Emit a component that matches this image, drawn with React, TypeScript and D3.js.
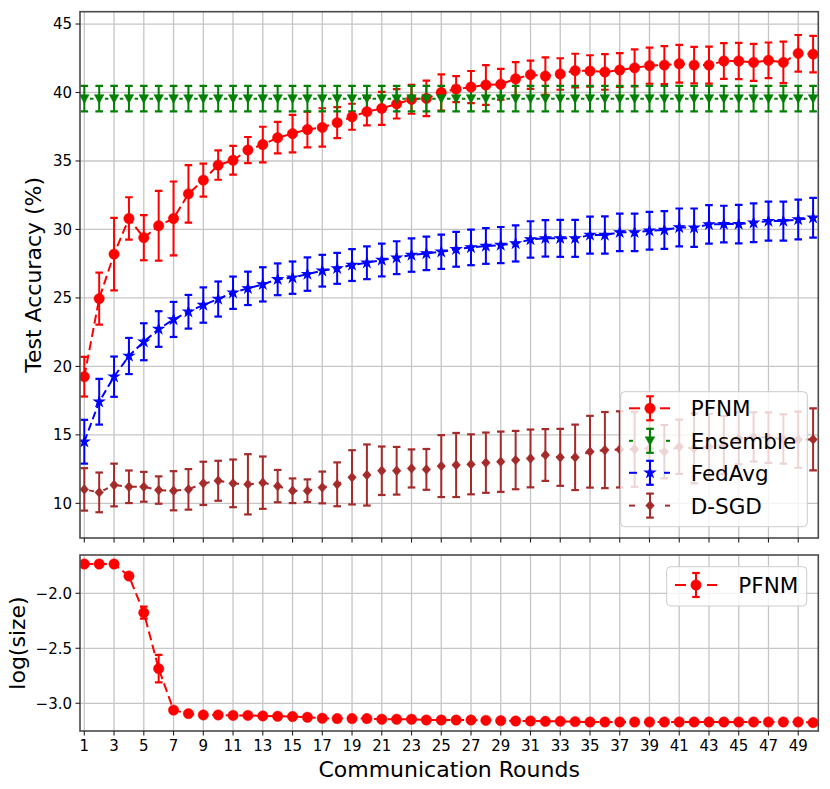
import React from 'react';
import * as d3 from 'd3';

const rounds = d3.range(1, 51);
const xTickValues = [1, 3, 5, 7, 9, 11, 13, 15, 17, 19, 21, 23, 25, 27, 29, 31, 33, 35, 37, 39, 41, 43, 45, 47, 49];
const yTopTicks = [10, 15, 20, 25, 30, 35, 40, 45];
const yBotTicks = [-3.0, -2.5, -2.0];

const pfnmMean = [19.25, 24.95, 28.2, 30.8, 29.4, 30.27, 30.8, 32.6, 33.6, 34.7, 35.05, 35.8, 36.2, 36.7, 37.0, 37.3, 37.45, 37.8, 38.23, 38.6, 38.84, 39.17, 39.5, 39.57, 40.0, 40.25, 40.4, 40.55, 40.6, 41.0, 41.3, 41.2, 41.35, 41.6, 41.57, 41.5, 41.64, 41.8, 41.96, 42.0, 42.1, 42.0, 42.0, 42.3, 42.3, 42.2, 42.35, 42.2, 42.86, 42.8];
const pfnmErr = [1.45, 1.9, 2.65, 1.55, 1.65, 2.55, 2.7, 2.1, 1.2, 1.07, 1.05, 0.95, 1.3, 1.15, 1.37, 1.3, 1.4, 1.13, 0.95, 1.0, 1.2, 1.07, 1.05, 1.3, 1.33, 0.95, 1.17, 1.45, 1.12, 1.22, 1.03, 1.37, 1.15, 1.23, 1.15, 1.3, 1.23, 1.35, 1.32, 1.38, 1.38, 1.33, 1.35, 1.3, 1.32, 1.35, 1.3, 1.51, 1.34, 1.33];

const ensembleMean = [39.55, 39.55, 39.55, 39.55, 39.55, 39.55, 39.55, 39.55, 39.55, 39.55, 39.55, 39.55, 39.55, 39.55, 39.55, 39.55, 39.55, 39.55, 39.55, 39.55, 39.55, 39.55, 39.55, 39.55, 39.55, 39.55, 39.55, 39.55, 39.55, 39.55, 39.55, 39.55, 39.55, 39.55, 39.55, 39.55, 39.55, 39.55, 39.55, 39.55, 39.55, 39.55, 39.55, 39.55, 39.55, 39.55, 39.55, 39.55, 39.55, 39.55];
const ensembleErr = [0.93, 0.93, 0.93, 0.93, 0.93, 0.93, 0.93, 0.93, 0.93, 0.93, 0.93, 0.93, 0.93, 0.93, 0.93, 0.93, 0.93, 0.93, 0.93, 0.93, 0.93, 0.93, 0.93, 0.93, 0.93, 0.93, 0.93, 0.93, 0.93, 0.93, 0.93, 0.93, 0.93, 0.93, 0.93, 0.93, 0.93, 0.93, 0.93, 0.93, 0.93, 0.93, 0.93, 0.93, 0.93, 0.93, 0.93, 0.93, 0.93, 0.93];

const fedavgMean = [14.5, 17.42, 19.25, 20.76, 21.8, 22.73, 23.43, 23.99, 24.48, 24.92, 25.38, 25.7, 25.99, 26.36, 26.48, 26.74, 26.99, 27.16, 27.4, 27.57, 27.77, 27.94, 28.13, 28.25, 28.37, 28.55, 28.69, 28.79, 28.86, 28.98, 29.27, 29.35, 29.35, 29.35, 29.59, 29.59, 29.79, 29.79, 29.91, 29.96, 30.15, 30.13, 30.37, 30.39, 30.39, 30.49, 30.61, 30.61, 30.73, 30.85];
const fedavgErr = [1.6, 1.67, 1.47, 1.32, 1.35, 1.3, 1.28, 1.23, 1.29, 1.28, 1.18, 1.22, 1.25, 1.16, 1.18, 1.22, 1.16, 1.13, 1.16, 1.2, 1.2, 1.2, 1.22, 1.22, 1.25, 1.27, 1.3, 1.3, 1.32, 1.32, 1.33, 1.33, 1.35, 1.35, 1.35, 1.36, 1.37, 1.37, 1.38, 1.38, 1.38, 1.4, 1.4, 1.34, 1.4, 1.42, 1.42, 1.42, 1.45, 1.45];

const dsgdMean = [11.02, 10.8, 11.34, 11.21, 11.21, 10.97, 10.92, 11.02, 11.46, 11.65, 11.46, 11.39, 11.51, 11.26, 10.92, 10.92, 11.16, 11.39, 11.9, 12.07, 12.38, 12.38, 12.55, 12.48, 12.72, 12.8, 12.85, 12.97, 13.04, 13.16, 13.28, 13.53, 13.36, 13.36, 13.77, 13.89, 13.94, 13.95, 14.0, 13.77, 14.13, 14.01, 14.13, 14.25, 14.75, 14.85, 14.8, 14.7, 14.65, 14.67];
const dsgdErr = [1.55, 1.45, 1.56, 1.19, 1.09, 1.0, 1.43, 1.48, 1.58, 1.46, 1.74, 2.2, 1.91, 1.18, 0.9, 0.83, 1.16, 1.6, 1.98, 2.23, 1.77, 1.74, 1.39, 1.49, 2.26, 2.34, 2.19, 2.2, 2.2, 2.13, 2.11, 1.89, 2.08, 2.39, 2.62, 2.78, 2.78, 2.74, 2.6, 1.95, 1.98, 2.55, 2.4, 2.13, 1.9, 1.8, 1.85, 1.8, 2.05, 2.26];

const sizeMean = [-1.734, -1.734, -1.734, -1.843, -2.176, -2.685, -3.062, -3.094, -3.106, -3.106, -3.11, -3.11, -3.115, -3.118, -3.12, -3.127, -3.136, -3.139, -3.139, -3.139, -3.145, -3.145, -3.145, -3.152, -3.152, -3.152, -3.152, -3.155, -3.158, -3.161, -3.161, -3.164, -3.164, -3.167, -3.17, -3.17, -3.17, -3.17, -3.17, -3.17, -3.17, -3.17, -3.17, -3.17, -3.17, -3.17, -3.17, -3.17, -3.17, -3.176];
const sizeErr = [0.005, 0.005, 0.005, 0.008, 0.055, 0.125, 0.02, 0.008, 0.005, 0.005, 0.005, 0.005, 0.005, 0.005, 0.005, 0.005, 0.005, 0.005, 0.005, 0.005, 0.005, 0.005, 0.005, 0.005, 0.005, 0.005, 0.005, 0.005, 0.005, 0.005, 0.005, 0.005, 0.005, 0.005, 0.005, 0.005, 0.005, 0.005, 0.005, 0.005, 0.005, 0.005, 0.005, 0.005, 0.005, 0.005, 0.005, 0.005, 0.005, 0.005];

const seriesNames = ['PFNM', 'Ensemble', 'FedAvg', 'D-SGD'];

const FONT = 'DejaVu Sans, Liberation Sans, sans-serif';
const W = 830;
const H = 789;
const L = 80;
const R = 818.3;
const T1 = 11.7;
const B1 = 538;
const T2 = 555;
const B2 = 731;

const x = d3.scaleLinear().domain([0.71, 50.35]).range([L, R]);
const yTop = d3.scaleLinear().domain([7.47, 45.9]).range([B1, T1]);
const yBot = d3.scaleLinear().domain([-3.252, -1.652]).range([B2, T2]);

type MarkerKind = 'circle' | 'tri' | 'star' | 'diamond';

function markerPath(kind: MarkerKind): string {
  if (kind === 'circle') return d3.symbol(d3.symbolCircle, Math.PI * 5.2 * 5.2)() as string;
  if (kind === 'star') return d3.symbol(d3.symbolStar, 30)() as string;
  if (kind === 'tri') return 'M0,4.8L-4.8,-4L4.8,-4Z';
  return 'M0,-4.9L4.3,0L0,4.9L-4.3,0Z';
}

const styles = [
  { color: '#ff0000', dash: '9,4.5', offset: 0, marker: 'circle' as MarkerKind, legL: 11, legR: 10 },
  { color: '#008000', dash: '3.5,11.375', offset: -5.69, marker: 'tri' as MarkerKind, legL: 4, legR: 4 },
  { color: '#0000ff', dash: '8,4', offset: 0, marker: 'star' as MarkerKind, legL: 8, legR: 6 },
  { color: '#a52a2a', dash: '5,9.9', offset: -4.95, marker: 'diamond' as MarkerKind, legL: 6, legR: 5 },
];

const topSeries = [
  { mean: pfnmMean, err: pfnmErr },
  { mean: ensembleMean, err: ensembleErr },
  { mean: fedavgMean, err: fedavgErr },
  { mean: dsgdMean, err: dsgdErr },
];

const CAP = 3.8;
const GRID = '#c6c6c6';
const SPINE = '#4a4a4a';

function ErrorBars({ mean, err, color, y }: { mean: number[]; err: number[]; color: string; y: d3.ScaleLinear<number, number> }) {
  return (
    <g stroke={color} strokeWidth={2} fill="none">
      {rounds.map((r, i) => {
        const cx = x(r);
        const y0 = y(mean[i] + err[i]);
        const y1 = y(mean[i] - err[i]);
        return (
          <g key={i}>
            <line x1={cx} x2={cx} y1={y0} y2={y1} />
            <line x1={cx - CAP} x2={cx + CAP} y1={y0} y2={y0} strokeWidth={2.2} />
            <line x1={cx - CAP} x2={cx + CAP} y1={y1} y2={y1} strokeWidth={2.2} />
          </g>
        );
      })}
    </g>
  );
}

function LineMarkers({ mean, color, dash, offset, marker, y }: { mean: number[]; color: string; dash: string; offset: number; marker: MarkerKind; y: d3.ScaleLinear<number, number> }) {
  const line = d3.line<number>().x((_, i) => x(rounds[i])).y((v) => y(v));
  const mp = markerPath(marker);
  return (
    <g>
      <path d={line(mean) as string} fill="none" stroke={color} strokeWidth={2} strokeDasharray={dash} strokeDashoffset={offset} />
      {rounds.map((r, i) => (
        <path key={i} d={mp} transform={`translate(${x(r)},${y(mean[i])})`} fill={color} stroke={color} strokeWidth={marker === 'star' ? 1.2 : 0.5} />
      ))}
    </g>
  );
}

function LegendHandle({ cx, cy, x0, x1, st }: { cx: number; cy: number; x0: number; x1: number; st: typeof styles[number] }) {
  return (
    <g>
      <line x1={x0} x2={x0 + st.legL} y1={cy} y2={cy} stroke={st.color} strokeWidth={2} />
      <line x1={x1 - st.legR} x2={x1} y1={cy} y2={cy} stroke={st.color} strokeWidth={2} />
      <g stroke={st.color} strokeWidth={2}>
        <line x1={cx} x2={cx} y1={cy - 12} y2={cy + 12} />
        <line x1={cx - CAP} x2={cx + CAP} y1={cy - 12} y2={cy - 12} strokeWidth={2.2} />
        <line x1={cx - CAP} x2={cx + CAP} y1={cy + 12} y2={cy + 12} strokeWidth={2.2} />
      </g>
      <path d={markerPath(st.marker)} transform={`translate(${cx},${cy})`} fill={st.color} stroke={st.color} strokeWidth={st.marker === 'star' ? 1.2 : 0.5} />
    </g>
  );
}

export default function App() {
  const fmt = (v: number) => (v < 0 ? '\u2212' + Math.abs(v).toFixed(1) : v.toFixed(1));
  const legendRows = [408.3, 440.8, 472.8, 505.6];
  return (
    <svg width={W} height={H} style={{ position: 'absolute', left: 0, top: 0, background: '#fff' }} fontFamily={FONT}>
      <defs>
        <clipPath id="clipTop"><rect x={L} y={T1} width={R - L} height={B1 - T1} /></clipPath>
        <clipPath id="clipBot"><rect x={L} y={T2} width={R - L} height={B2 - T2} /></clipPath>
      </defs>
      <rect x={0} y={0} width={W} height={H} fill="#fff" />

      {/* grids */}
      <g stroke={GRID} strokeWidth={1.3}>
        {xTickValues.map((t) => (
          <g key={t}>
            <line x1={x(t)} x2={x(t)} y1={T1} y2={B1} />
            <line x1={x(t)} x2={x(t)} y1={T2} y2={B2} />
          </g>
        ))}
        {yTopTicks.map((t) => (
          <line key={t} x1={L} x2={R} y1={yTop(t)} y2={yTop(t)} />
        ))}
        {yBotTicks.map((t) => (
          <line key={t} x1={L} x2={R} y1={yBot(t)} y2={yBot(t)} />
        ))}
      </g>

      {/* top panel data */}
      <g clipPath="url(#clipTop)">
        {topSeries.map((s, k) => (
          <ErrorBars key={k} mean={s.mean} err={s.err} color={styles[k].color} y={yTop} />
        ))}
        {topSeries.map((s, k) => (
          <LineMarkers key={k} mean={s.mean} color={styles[k].color} dash={styles[k].dash} offset={styles[k].offset} marker={styles[k].marker} y={yTop} />
        ))}
      </g>

      {/* bottom panel data */}
      <g clipPath="url(#clipBot)">
        <ErrorBars mean={sizeMean} err={sizeErr} color={styles[0].color} y={yBot} />
        <LineMarkers mean={sizeMean} color={styles[0].color} dash={styles[0].dash} offset={0} marker="circle" y={yBot} />
      </g>

      {/* spines */}
      <g fill="none" stroke={SPINE} strokeWidth={1.6}>
        <rect x={L} y={T1} width={R - L} height={B1 - T1} />
        <rect x={L} y={T2} width={R - L} height={B2 - T2} />
      </g>

      {/* ticks */}
      <g stroke="#222" strokeWidth={1.1}>
        {xTickValues.map((t) => (
          <g key={t}>
            <line x1={x(t)} x2={x(t)} y1={B1} y2={B1 + 4.5} />
            <line x1={x(t)} x2={x(t)} y1={B2} y2={B2 + 4.5} />
          </g>
        ))}
        {yTopTicks.map((t) => (
          <line key={t} x1={L - 4.5} x2={L} y1={yTop(t)} y2={yTop(t)} />
        ))}
        {yBotTicks.map((t) => (
          <line key={t} x1={L - 4.5} x2={L} y1={yBot(t)} y2={yBot(t)} />
        ))}
      </g>

      {/* tick labels */}
      <g fontSize={15} fill="#000">
        {yTopTicks.map((t) => (
          <text key={t} x={72} y={yTop(t)} dy="0.36em" textAnchor="end">{t}</text>
        ))}
        {yBotTicks.map((t) => (
          <text key={t} x={72} y={yBot(t)} dy="0.36em" textAnchor="end">{fmt(t)}</text>
        ))}
        {xTickValues.map((t) => (
          <text key={t} x={x(t)} y={751} textAnchor="middle">{t}</text>
        ))}
      </g>

      {/* axis labels */}
      <text transform={`translate(41,${(T1 + B1) / 2}) rotate(-90)`} textAnchor="middle" fontSize={22}>Test Accuracy (%)</text>
      <text transform={`translate(25,${(T2 + B2) / 2}) rotate(-90)`} textAnchor="middle" fontSize={22}>log(size)</text>
      <text x={(L + R) / 2} y={777} textAnchor="middle" fontSize={22}>Communication Rounds</text>

      {/* top legend */}
      <g>
        <rect x={620.7} y={391.7} width={186.6} height={135} rx={4} fill="#fff" fillOpacity={0.8} stroke="#cccccc" strokeWidth={1} />
        {seriesNames.map((name, k) => (
          <g key={name}>
            <LegendHandle cx={650} cy={legendRows[k]} x0={629} x1={670} st={styles[k]} />
            <text x={690.7} y={legendRows[k]} dy="0.37em" fontSize={21.5}>{name}</text>
          </g>
        ))}
      </g>

      {/* bottom legend */}
      <g>
        <rect x={666.7} y={566.7} width={140} height={39.3} rx={4} fill="#fff" fillOpacity={0.8} stroke="#cccccc" strokeWidth={1} />
        <LegendHandle cx={696} cy={585} x0={675} x1={717} st={styles[0]} />
        <text x={738.3} y={585} dy="0.37em" fontSize={21.5}>{seriesNames[0]}</text>
      </g>
    </svg>
  );
}
